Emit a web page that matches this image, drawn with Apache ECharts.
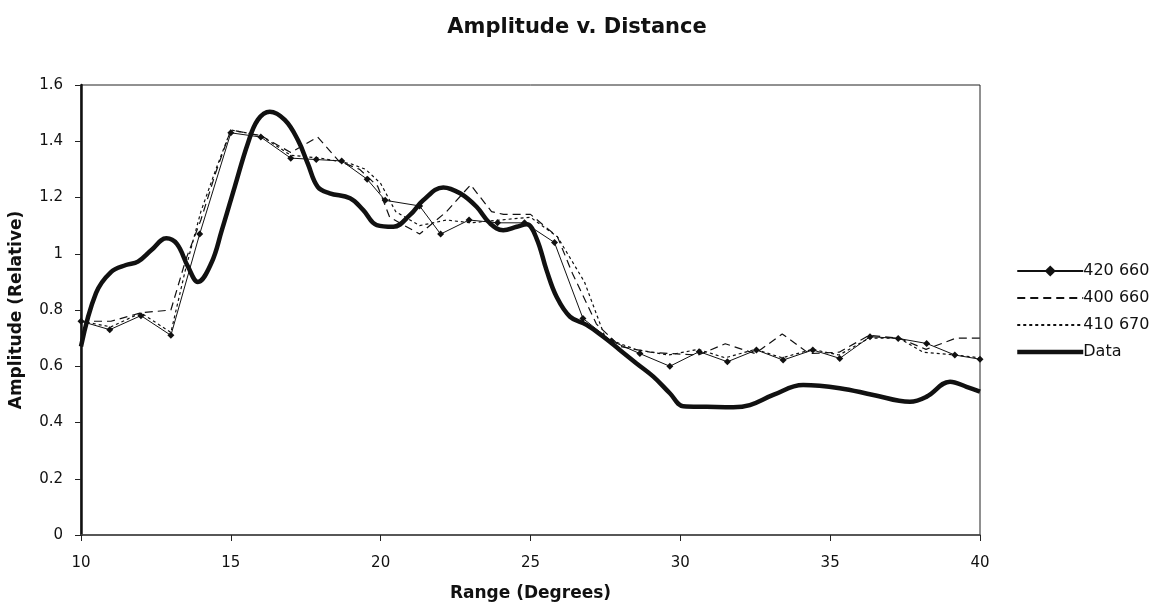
<!DOCTYPE html>
<html>
<head>
<meta charset="utf-8">
<script src="https://cdn.jsdelivr.net/npm/echarts@6/dist/echarts.min.js"></script>
<style>html,body{margin:0;padding:0;background:#fff;}#c{width:1162px;height:603px;}</style>
</head>
<body>
<div id="c"></div>
<script>
const xTicks = { min: 10, max: 40, interval: 5 };
const yTicks = { min: 0, max: 1.6, interval: 0.2 };
const seriesNames = ['420 660', '400 660', '410 670', 'Data'];

const s420_660 = [[10,0.76],[10.96,0.73],[12,0.78],[13,0.71],[13.96,1.07],[15,1.43],[16,1.415],[17,1.34],[17.85,1.335],[18.7,1.33],[19.55,1.265],[20.15,1.19],[21.3,1.17],[22,1.07],[22.95,1.12],[23.9,1.11],[24.8,1.11],[25.8,1.04],[26.75,0.77],[27.7,0.69],[28.65,0.645],[29.65,0.60],[30.63,0.652],[31.57,0.616],[32.54,0.658],[33.43,0.622],[34.42,0.658],[35.32,0.628],[36.33,0.705],[37.27,0.699],[38.22,0.681],[39.16,0.64],[40,0.625]];

const s400_660 = [[10,0.76],[11,0.76],[12,0.79],[13,0.80],[13.5,0.98],[14,1.12],[14.5,1.29],[15,1.44],[16,1.42],[17,1.36],[17.9,1.415],[18.6,1.33],[19.3,1.30],[19.9,1.24],[20.3,1.13],[21.3,1.07],[22.2,1.15],[23,1.245],[23.7,1.15],[24.1,1.14],[25,1.14],[25.9,1.06],[26.4,0.93],[27.2,0.75],[28,0.67],[29,0.65],[29.7,0.645],[30.6,0.64],[31.5,0.68],[32.5,0.645],[33.4,0.715],[34.3,0.645],[35.3,0.65],[36.3,0.71],[37.3,0.70],[38.2,0.66],[39.2,0.70],[40,0.70]];

const s410_670 = [[10,0.76],[11,0.74],[12,0.79],[13,0.72],[13.5,0.95],[14,1.15],[14.5,1.30],[15,1.44],[16,1.42],[17,1.35],[18,1.34],[19,1.32],[19.5,1.30],[20,1.25],[20.5,1.15],[21.3,1.10],[22.2,1.12],[23,1.11],[24,1.12],[25,1.13],[25.9,1.06],[26.8,0.90],[27.5,0.70],[28.5,0.66],[29.6,0.64],[30.6,0.66],[31.5,0.63],[32.5,0.66],[33.4,0.63],[34.4,0.66],[35.3,0.64],[36.3,0.70],[37.3,0.70],[38.1,0.65],[39.2,0.64],[40,0.63]];

const sData = [[10,0.67],[10.5,0.86],[11,0.935],[11.5,0.96],[11.9,0.972],[12.35,1.013],[12.85,1.055],[13.2,1.035],[13.57,0.954],[13.9,0.90],[14.35,0.967],[14.7,1.084],[15.13,1.238],[15.57,1.393],[15.9,1.476],[16.3,1.505],[16.8,1.476],[17.24,1.404],[17.57,1.32],[17.9,1.238],[18.3,1.215],[18.98,1.197],[19.42,1.155],[19.87,1.102],[20.42,1.096],[20.98,1.138],[21.42,1.19],[22.09,1.236],[22.65,1.215],[23.2,1.167],[23.65,1.108],[24.09,1.084],[24.54,1.096],[24.87,1.105],[25.2,1.055],[25.54,0.94],[25.87,0.847],[26.32,0.776],[26.87,0.747],[27.43,0.705],[27.98,0.658],[28.54,0.61],[29.1,0.563],[29.65,0.504],[30.1,0.458],[30.88,0.456],[31.77,0.454],[32.32,0.462],[33.1,0.498],[34.1,0.533],[35.32,0.522],[36.44,0.498],[37.66,0.474],[38.22,0.492],[39.0,0.545],[39.55,0.527],[40,0.51]];

const FONT = 'DejaVu Sans';
const chart = echarts.init(document.getElementById('c'), null, { renderer: 'canvas' });
chart.setOption({
  animation: false,
  backgroundColor: '#fff',
  title: {
    text: 'Amplitude v. Distance',
    left: 572, top: 12, textAlign: 'center',
    textStyle: { fontFamily: FONT, fontWeight: 'bold', fontSize: 21, color: '#111' }
  },
  legend: {
    orient: 'vertical', left: 1010, top: 258, itemWidth: 66, itemHeight: 14, itemGap: 11,
    textStyle: { fontFamily: FONT, fontSize: 16, color: '#111', padding: [0,0,0,-5] },
    data: [
      { name: seriesNames[0] },
      { name: seriesNames[1], itemStyle: { opacity: 0 } },
      { name: seriesNames[2], itemStyle: { opacity: 0 } },
      { name: seriesNames[3], itemStyle: { opacity: 0 }, lineStyle: { width: 4.5 } }
    ]
  },
  grid: { left: 81, right: 182, top: 85, bottom: 68, outerBoundsMode: 'none', containLabel: false,
    show: true, borderColor: '#222', borderWidth: 1, backgroundColor: 'transparent' },
  xAxis: {
    type: 'value', min: xTicks.min, max: xTicks.max, interval: xTicks.interval,
    name: 'Range (Degrees)', nameLocation: 'middle', nameGap: 50,
    nameTextStyle: { fontFamily: FONT, fontWeight: 'bold', fontSize: 17, color: '#111' },
    axisLine: { lineStyle: { color: '#444', width: 1.5 } },
    axisTick: { length: 6, lineStyle: { color: '#222' } },
    axisLabel: { fontFamily: FONT, fontSize: 15, color: '#111', margin: 21 },
    splitLine: { show: false }
  },
  yAxis: {
    type: 'value', min: yTicks.min, max: yTicks.max, interval: yTicks.interval,
    name: 'Amplitude (Relative)', nameLocation: 'middle', nameGap: 56,
    nameTextStyle: { fontFamily: FONT, fontWeight: 'bold', fontSize: 17, color: '#111' },
    axisLine: { show: true, lineStyle: { color: '#111', width: 2.5 } },
    axisTick: { show: true, length: 6, lineStyle: { color: '#222' } },
    axisLabel: { fontFamily: FONT, fontSize: 15, color: '#111', margin: 18 },
    splitLine: { show: false }
  },
  series: [
    { name: seriesNames[0], type: 'line', data: s420_660, symbol: 'diamond', symbolSize: 7, showSymbol: true,
      itemStyle: { color: '#111' }, lineStyle: { color: '#111', width: 1 }, z: 3 },
    { name: seriesNames[1], type: 'line', data: s400_660, showSymbol: false, symbol: 'none',
      itemStyle: { color: '#111' }, lineStyle: { color: '#111', width: 1.2, type: [8, 5] }, z: 3 },
    { name: seriesNames[2], type: 'line', data: s410_670, showSymbol: false, symbol: 'none',
      itemStyle: { color: '#111' }, lineStyle: { color: '#111', width: 1.2, type: [3, 3] }, z: 3 },
    { name: seriesNames[3], type: 'line', data: sData, showSymbol: false, symbol: 'none', smooth: 0.4,
      itemStyle: { color: '#111' }, lineStyle: { color: '#111', width: 4.5 }, z: 4 }
  ]
});
</script>
</body>
</html>
